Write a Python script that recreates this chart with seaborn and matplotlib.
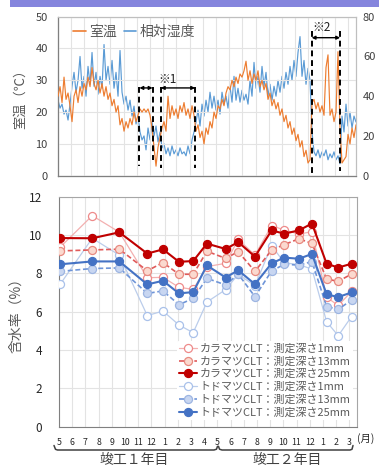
import numpy as np
import pandas as pd
import matplotlib
matplotlib.use('Agg')
import matplotlib.pyplot as plt
import seaborn as sns
from matplotlib.lines import Line2D
from matplotlib.patches import Rectangle

sns.set_style('white')
plt.rcParams['font.family'] = ['Noto Sans CJK JP', 'DejaVu Sans']

# ---------------- data ----------------
# indoor temperature (deg C) and relative humidity (%)
temp = [25, 28, 23, 31, 24, 26, 22, 17, 25, 27, 23, 28, 25, 29, 27, 31, 28, 34, 29, 27,
        30, 26, 29, 25, 28, 24, 26, 22, 24, 20, 22, 16, 18, 14, 17, 15, 18, 16, 20, 17,
        19, 21, 20, 21, 20, 21, 19, 15, 9, 3, 9, 12, 15, 17, 14, 25, 18, 22, 19, 21,
        18, 22, 20, 23, 19, 21, 18, 22, 19, 14, 16, 12, 14, 10, 15, 13, 17, 15, 20, 18,
        22, 21, 24, 22, 26, 28, 27, 30, 28, 31, 29, 32, 31, 33, 36, 30, 33, 29, 32, 30,
        33, 28, 30, 27, 29, 24, 26, 22, 24, 21, 23, 19, 21, 17, 19, 15, 17, 13, 15, 11,
        13, 9, 11, 6, 8, 4, 5, 23, 24, 21, 23, 20, 22, 19, 34, 38, 19, 21, 17, 20,
        39, 15, 4, 5, 6, 13, 10, 15, 12, 16]
humid = [38, 34, 36, 31, 33, 28, 36, 45, 52, 42, 48, 60, 44, 50, 40, 55, 46, 62, 45, 52,
         41, 50, 44, 66, 48, 55, 46, 58, 44, 52, 40, 63, 42, 36, 40, 33, 38, 30, 35, 26,
         30, 22, 18, 20, 13, 24, 18, 27, 20, 25, 17, 22, 14, 16, 11, 14, 10, 15, 11, 13,
         10, 14, 11, 12, 10, 15, 11, 18, 22, 27, 33, 25, 36, 30, 38, 32, 42, 34, 40, 33,
         38, 31, 42, 36, 40, 34, 45, 37, 50, 38, 44, 37, 43, 38, 41, 36, 48, 40, 57, 44,
         50, 42, 55, 45, 52, 40, 46, 38, 45, 40, 48, 42, 50, 44, 52, 46, 55, 48, 58, 50,
         62, 70, 50, 58, 46, 54, 48, 22, 12, 10, 13, 9, 12, 10, 13, 8, 11, 9, 12, 8,
         10, 6, 30, 22, 36, 25, 32, 24, 30, 27]

month_labels = ['5', '6', '7', '8', '9', '10', '11', '12', '1', '2', '3', '4',
                '5', '6', '7', '8', '9', '10', '11', '12', '1', '2', '3']

# measurement times (months after May, year 1)
meas_t = [0.08, 2.52, 4.57, 6.69, 7.88, 9.09, 10.17, 11.21, 12.63, 13.58,
          14.85, 16.11, 17.07, 18.18, 19.17, 20.28, 21.16, 22.17]
kara_1 = [9.36, 11.01, 10.15, 7.77, 7.79, 7.27, 7.16, 8.35, 8.52, 9.77,
          8.95, 10.49, 10.26, 10.05, 10.17, 6.75, 6.32, 7.05]
kara_13 = [9.17, 9.22, 9.26, 8.13, 8.56, 7.95, 7.95, 9.15, 8.78, 9.13,
           8.10, 9.21, 9.50, 9.80, 9.56, 7.70, 7.58, 7.96]
kara_25 = [9.84, 9.83, 10.14, 9.03, 9.25, 8.60, 8.64, 9.55, 9.27, 9.63,
           8.87, 10.24, 10.07, 10.24, 10.60, 8.50, 8.30, 8.50]
todo_1 = [7.42, 9.83, 8.95, 5.79, 6.03, 5.30, 4.90, 6.50, 7.15, 7.95,
          7.35, 9.45, 8.55, 8.45, 8.22, 5.47, 4.74, 5.74]
todo_13 = [8.10, 8.25, 8.28, 6.95, 7.08, 6.36, 6.69, 7.74, 7.39, 7.96,
           6.78, 8.12, 8.47, 8.43, 8.61, 6.26, 6.12, 6.60]
todo_25 = [8.47, 8.62, 8.62, 7.42, 7.61, 6.95, 7.02, 8.41, 7.78, 8.16,
           7.43, 8.52, 8.82, 8.76, 9.01, 6.90, 6.76, 7.00]

labels = ['カラマツCLT：測定深さ1mm', 'カラマツCLT：測定深さ13mm', 'カラマツCLT：測定深さ25mm',
          'トドマツCLT：測定深さ1mm', 'トドマツCLT：測定深さ13mm', 'トドマツCLT：測定深さ25mm']

# ---------------- figure ----------------
W, H = 379, 468
fig = plt.figure(figsize=(W / 100, H / 100), dpi=100)
fig.patch.set_facecolor('white')

def fx(px):
    return px / W

def fy(py):
    return 1 - py / H

# purple header bar
fig.patches.append(Rectangle((fx(10), fy(6.5)), 1 - fx(10), 6.5 / H, transform=fig.transFigure,
                             facecolor='#8585DD', edgecolor='none'))

TXT = '#595959'
GRID = '#E3E3E3'

# ---------- top chart ----------
ax1 = fig.add_axes([fx(57.5), fy(175.7), fx(356) - fx(57.5), (175.7 - 16.7) / H])
df_t = pd.DataFrame({'t': np.linspace(0.04, 22.6, len(temp)), 'temp': temp})
df_h = pd.DataFrame({'t': np.linspace(0.04, 22.6, len(humid)), 'humid': humid})
sns.lineplot(data=df_t, x='t', y='temp', ax=ax1, color='#ED7D31', lw=0.85, sort=False,
             errorbar=None, zorder=3)
ax1b = ax1.twinx()
sns.lineplot(data=df_h, x='t', y='humid', ax=ax1b, color='#5B9BD5', lw=0.85, sort=False,
             errorbar=None, zorder=2)
ax1.set_zorder(ax1b.get_zorder() + 1)
ax1.patch.set_visible(False)

ax1.set_xlim(0, 22.6)
ax1.set_ylim(0, 50)
ax1b.set_ylim(0, 80)
ax1.set_xticks(range(23))
ax1.set_yticks(range(0, 51, 10))
ax1b.set_yticks(range(0, 81, 20))
ax1.tick_params(axis='x', labelbottom=False, length=0)
ax1.tick_params(axis='y', length=0, pad=7, labelsize=8, labelcolor='#404040')
ax1b.tick_params(axis='y', length=0, pad=5, labelsize=8, labelcolor='#404040')
ax1.grid(True, color=GRID, lw=0.8)
ax1.set_axisbelow(True)
ax1.set_xlabel('')
ax1.set_ylabel('室温（℃）', fontsize=9.5, color=TXT, labelpad=6)
ax1b.set_ylabel('')
for sp in ['top', 'right']:
    ax1.spines[sp].set_color('#BFBFBF')
    ax1b.spines[sp].set_color('#BFBFBF')
for sp in ['left', 'bottom']:
    ax1.spines[sp].set_color('#808080')
for sp in list(ax1b.spines.values()) + list(ax1.spines.values()):
    sp.set_linewidth(0.8)

h_leg = [Line2D([], [], color='#ED7D31', lw=1.2), Line2D([], [], color='#5B9BD5', lw=1.2)]
ax1.legend(h_leg, ['室温', '相対湿度'], loc='upper left', bbox_to_anchor=(0.025, 1.0), ncol=2,
           frameon=False, fontsize=10, handlelength=0.9, handletextpad=0.25,
           columnspacing=0.5, labelcolor=TXT, borderaxespad=0.2)

# annotations *1 and *2
dash_kw = dict(color='black', lw=1.4, ls=(0, (3, 2)), zorder=6)
for tx, y0, y1 in [(6.2, 27.9, 3.2), (7.2, 27.9, 5.0), (7.82, 27.9, 2.5), (10.42, 27.9, 2.5),
                   (19.24, 45.5, 1.0), (21.4, 45.5, 1.5)]:
    ax1.plot([tx, tx], [y0, y1], **dash_kw)
arr_kw = dict(arrowstyle='<|-|>', color='black', lw=1.0, mutation_scale=5, shrinkA=0, shrinkB=0)
ax1.annotate('', xy=(6.2, 27.6), xytext=(7.2, 27.6), arrowprops=arr_kw, zorder=7)
ax1.annotate('', xy=(7.82, 27.6), xytext=(10.42, 27.6), arrowprops=arr_kw, zorder=7)
ax1.annotate('', xy=(19.24, 43.4), xytext=(21.4, 43.4), arrowprops=arr_kw, zorder=7)
ax1.text(8.35, 30.2, '※1', fontsize=8.5, color='#202020', ha='center', va='center')
ax1.text(20.0, 46.6, '※2', fontsize=8.5, color='#202020', ha='center', va='center')

# ---------- bottom chart ----------
ax2 = fig.add_axes([fx(59), fy(426.5), fx(356.7) - fx(59), (426.5 - 196.7) / H])
series = [kara_1, kara_13, kara_25, todo_1, todo_13, todo_25]
styles = [
    dict(color='#F3B0B0', lw=0.9, ls='-', mfc='white', mec='#EE8A8A'),
    dict(color='#E05A5A', lw=1.2, ls=(0, (3, 1.6)), mfc='#FBD9CF', mec='#E88A80'),
    dict(color='#C00000', lw=1.5, ls='-', mfc='#C00000', mec='#C00000'),
    dict(color='#BBCDEB', lw=0.9, ls='-', mfc='white', mec='#A9C1EA'),
    dict(color='#6F95D8', lw=1.2, ls=(0, (3, 1.6)), mfc='#C8D6F1', mec='#9DB5E2'),
    dict(color='#4472C4', lw=1.5, ls='-', mfc='#4472C4', mec='#4472C4'),
]
order = [0, 3, 1, 4, 5, 2]
zmap = {0: 3, 3: 3, 1: 4, 4: 4, 5: 5, 2: 6}
for i in order:
    d = pd.DataFrame({'t': meas_t, 'v': series[i]})
    s = styles[i]
    sns.lineplot(data=d, x='t', y='v', ax=ax2, color=s['color'], lw=s['lw'], ls=s['ls'],
                 marker='o', markersize=5.8, markerfacecolor=s['mfc'], markeredgecolor=s['mec'],
                 markeredgewidth=0.9, sort=False, errorbar=None, label=labels[i], zorder=zmap[i])

ax2.set_xlim(0, 22.56)
ax2.set_ylim(0, 12)
ax2.set_xticks(range(23))
ax2.set_xticklabels(month_labels)
ax2.set_yticks(range(0, 13, 2))
ax2.tick_params(axis='x', length=0, pad=8, labelsize=6.3, labelcolor='#262626')
ax2.tick_params(axis='y', length=0, pad=12, labelsize=8.5, labelcolor='#262626')
ax2.grid(True, color=GRID, lw=0.8)
ax2.set_axisbelow(True)
ax2.set_xlabel('')
ax2.set_ylabel('含水率（%）', fontsize=10, color=TXT, labelpad=4)
for sp in ax2.spines.values():
    sp.set_color('#A6A6A6')
    sp.set_linewidth(0.8)
ax2.spines['left'].set_color('#808080')
ax2.spines['bottom'].set_color('#808080')

hs, ls_ = ax2.get_legend_handles_labels()
lab_to_h = dict(zip(ls_, hs))
leg = ax2.legend([lab_to_h[l] for l in labels], labels, loc='lower right',
                 bbox_to_anchor=(0.995, 0.02), frameon=True, fontsize=7.9, handlelength=1.6,
                 handletextpad=0.3, labelspacing=0.2, borderpad=0.2, labelcolor=TXT,
                 borderaxespad=0.2)
leg.get_frame().set_facecolor('white')
leg.get_frame().set_edgecolor('none')
leg.get_frame().set_alpha(1.0)

# month unit and year brackets
fig.text(fx(366), fy(439), '(月)', fontsize=7.5, color='#262626', ha='center', va='center')
br_kw = dict(color='#404040', lw=1.1, transform=fig.transFigure)
fig.lines.append(Line2D([fx(54), fx(55.5), fx(57.5), fx(214), fx(216.5), fx(217.5)],
                        [fy(445.5), fy(449.3), fy(450), fy(450), fy(449.2), fy(446.3)], **br_kw))
fig.lines.append(Line2D([fx(218.5), fx(219.5), fx(222), fx(350), fx(352), fx(353)],
                        [fy(446.3), fy(449.2), fy(450), fy(450), fy(449.3), fy(445.5)], **br_kw))
fig.text(fx(134), fy(460), '竣工１年目', fontsize=10, color='#404040', ha='center', va='center')
fig.text(fx(287), fy(460), '竣工２年目', fontsize=10, color='#404040', ha='center', va='center')

fig.savefig('out.png', dpi=100, facecolor='white')
